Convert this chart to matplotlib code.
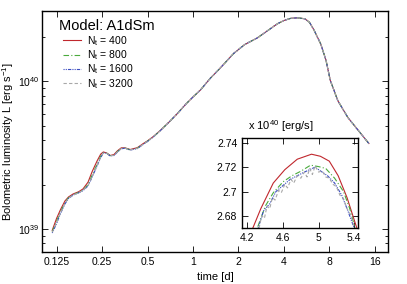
import matplotlib
matplotlib.use("Agg")
import matplotlib.pyplot as plt
from matplotlib.ticker import FixedLocator, FixedFormatter, LogLocator, NullFormatter

plt.rcParams['font.family'] = ['Liberation Sans', 'DejaVu Sans']
plt.rcParams['mathtext.fontset'] = 'custom'
plt.rcParams['mathtext.rm'] = 'Liberation Sans'
plt.rcParams['mathtext.it'] = 'Liberation Sans:italic'

# main light curve, time in days, luminosity in 1e39 erg/s
t_main = [0.117, 0.125, 0.133, 0.142, 0.150, 0.161, 0.175, 0.187, 0.202, 0.215,
          0.232, 0.245, 0.255, 0.268, 0.283, 0.300, 0.315, 0.335, 0.355, 0.384,
          0.428, 0.469, 0.50, 0.55, 0.609, 0.70, 0.79, 0.90, 1.00, 1.12,
          1.30, 1.50, 1.86, 2.20, 2.68, 3.12, 3.62, 4.00, 4.44, 4.94,
          5.50, 5.90, 6.30, 7.00, 7.60, 8.10, 9.10, 10.6, 12.4, 14.6]
L_400 = [0.98, 1.18, 1.36, 1.55, 1.65, 1.73, 1.79, 1.87, 2.08, 2.45,
         2.90, 3.22, 3.33, 3.28, 3.15, 3.20, 3.38, 3.55, 3.55, 3.46,
         3.56, 3.80, 3.96, 4.26, 4.67, 5.35, 6.08, 7.05, 7.85, 8.75,
         10.5, 12.2, 15.5, 17.8, 19.8, 22.1, 24.6, 25.9, 26.8, 27.0,
         26.6, 25.2, 22.5, 18.0, 13.9, 10.2, 7.4, 5.7, 4.67, 3.8]
L_800 = [0.96, 1.13, 1.31, 1.51, 1.63, 1.71, 1.77, 1.84, 2.00, 2.32,
         2.76, 3.12, 3.30, 3.27, 3.14, 3.17, 3.34, 3.52, 3.54, 3.44,
         3.53, 3.77, 3.94, 4.24, 4.66, 5.35, 6.08, 7.05, 7.85, 8.75,
         10.5, 12.2, 15.5, 17.8, 19.8, 22.1, 24.6, 25.9, 26.8, 27.0,
         26.6, 25.2, 22.5, 18.0, 13.9, 10.2, 7.4, 5.7, 4.67, 3.8]
L_1600 = [0.94, 1.09, 1.28, 1.48, 1.61, 1.70, 1.76, 1.82, 1.96, 2.25,
          2.68, 3.05, 3.27, 3.26, 3.13, 3.15, 3.31, 3.50, 3.53, 3.43,
          3.51, 3.75, 3.92, 4.23, 4.65, 5.35, 6.08, 7.05, 7.85, 8.75,
          10.5, 12.2, 15.5, 17.8, 19.8, 22.1, 24.6, 25.9, 26.8, 27.0,
          26.6, 25.2, 22.5, 18.0, 13.9, 10.2, 7.4, 5.7, 4.67, 3.8]
L_3200 = [0.95, 1.10, 1.29, 1.49, 1.62, 1.70, 1.76, 1.83, 1.97, 2.27,
          2.70, 3.07, 3.28, 3.26, 3.14, 3.16, 3.32, 3.51, 3.53, 3.44,
          3.52, 3.76, 3.93, 4.23, 4.65, 5.35, 6.08, 7.05, 7.85, 8.75,
          10.5, 12.2, 15.5, 17.8, 19.8, 22.1, 24.6, 25.9, 26.8, 27.0,
          26.6, 25.2, 22.5, 18.0, 13.9, 10.2, 7.4, 5.7, 4.67, 3.8]

# inset around the peak, luminosity in 1e40 erg/s
t_in_400 = [4.15, 4.26, 4.35, 4.49, 4.62, 4.76, 4.92, 5.02, 5.12, 5.22, 5.32, 5.43, 5.46]
L_in_400 = [2.655, 2.670, 2.686, 2.707, 2.718, 2.7266, 2.7307, 2.729, 2.725, 2.713, 2.695, 2.670, 2.662]
t_in_800 = [4.20, 4.31, 4.40, 4.49, 4.60, 4.70, 4.80, 4.91, 5.00, 5.08, 5.18, 5.28, 5.35, 5.41, 5.45]
L_in_800 = [2.655, 2.670, 2.688, 2.699, 2.708, 2.713, 2.7167, 2.7217, 2.7205, 2.719, 2.711, 2.700, 2.686, 2.670, 2.660]
t_in_1600 = [4.32, 4.38, 4.45, 4.52, 4.60, 4.68, 4.76, 4.84, 4.90, 4.96, 5.02, 5.10, 5.18, 5.26, 5.33, 5.40, 5.45]
L_in_1600 = [2.670, 2.684, 2.690, 2.700, 2.705, 2.710, 2.713, 2.716, 2.718, 2.720, 2.717, 2.713, 2.707, 2.697, 2.684, 2.670, 2.658]
t_in_3200 = [4.33, 4.36, 4.39, 4.42, 4.45, 4.48, 4.51, 4.55, 4.58, 4.62, 4.65, 4.69, 4.72, 4.76, 4.80, 4.84,
             4.87, 4.90, 4.93, 4.96, 5.00, 5.04, 5.08, 5.12, 5.16, 5.20, 5.24, 5.28, 5.32, 5.36, 5.40, 5.44]
L_in_3200 = [2.670, 2.680, 2.678, 2.688, 2.686, 2.695, 2.693, 2.701, 2.699, 2.706, 2.703, 2.710, 2.707, 2.713, 2.711, 2.716,
             2.712, 2.719, 2.714, 2.721, 2.716, 2.717, 2.712, 2.711, 2.706, 2.704, 2.697, 2.694, 2.686, 2.681, 2.671, 2.662]

labels = [r'N$_\mathrm{t}$ = 400', r'N$_\mathrm{t}$ = 800', r'N$_\mathrm{t}$ = 1600', r'N$_\mathrm{t}$ = 3200']
colors = ['#c0272d', '#4aaa3c', '#3a4cc0', '#a8a8a8']
styles = ['-', (0, (5, 2, 1, 2)), (0, (1, 1, 1, 1, 3, 1)), (0, (3, 2))]

xticks = [0.125, 0.25, 0.5, 1, 2, 4, 8, 16]
xticklabels = ['0.125', '0.25', '0.5', '1', '2', '4', '8', '16']

fig = plt.figure(figsize=(4.07, 2.84), dpi=100)
ax = fig.add_axes([0.103, 0.113, 0.850, 0.848])

main_L = [L_400, L_800, L_1600, L_3200]
for L, lab, c, ls in zip(main_L, labels, colors, styles):
    ax.plot(t_main, [v * 1e39 for v in L], color=c, ls=ls, lw=0.8, label=lab)

ax.set_xscale('log')
ax.set_yscale('log')
ax.set_xlim(0.1, 19.5)
ax.set_ylim(7e38, 3e40)
ax.xaxis.set_major_locator(FixedLocator(xticks))
ax.xaxis.set_major_formatter(FixedFormatter(xticklabels))
ax.xaxis.set_minor_locator(FixedLocator([]))
ax.yaxis.set_major_locator(LogLocator(base=10))
ax.yaxis.set_minor_locator(LogLocator(base=10, subs=range(2, 10)))
ax.yaxis.set_minor_formatter(NullFormatter())
ax.tick_params(which='both', direction='in', top=True, right=True, labelsize=7.5)
ax.tick_params(which='major', length=4, width=0.6)
ax.tick_params(which='minor', length=2, width=0.6)
ax.tick_params(axis='y', pad=2)
for s in ax.spines.values():
    s.set_linewidth(1.0)
ax.set_xlabel('time [d]', fontsize=8, labelpad=4)
fig.text(8.5 / 407, 0.5, r'Bolometric luminosity L [erg s$^{-1}$]', fontsize=8,
         rotation=90, ha='center', va='center')

ax.text(0.05, 0.94, 'Model: A1dSm', transform=ax.transAxes, fontsize=10.5, va='center')
ax.legend(loc='upper left', bbox_to_anchor=(0.062, 0.905), frameon=False, fontsize=7.5,
          handlelength=1.7, handletextpad=0.6, labelspacing=0.05, borderaxespad=0,
          borderpad=0)

ins = fig.add_axes([0.595, 0.197, 0.285, 0.317])
ins_t = [t_in_400, t_in_800, t_in_1600, t_in_3200]
ins_L = [L_in_400, L_in_800, L_in_1600, L_in_3200]
for t, L, c, ls in zip(ins_t, ins_L, colors, styles):
    ins.plot(t, L, color=c, ls=ls, lw=0.8)
ins.set_xlim(4.14, 5.445)
ins.set_ylim(2.670, 2.744)
ins.set_xticks([4.2, 4.6, 5.0, 5.4])
ins.set_xticklabels(['4.2', '4.6', '5', '5.4'])
ins.set_yticks([2.68, 2.70, 2.72, 2.74])
ins.set_yticklabels(['2.68', '2.7', '2.72', '2.74'])
ins.tick_params(direction='in', top=True, right=True, labelsize=7.5, length=4, width=0.6)
for s in ins.spines.values():
    s.set_linewidth(1.0)
ins.text(0.05, 1.05, r'x 10$^{40}$ [erg/s]', transform=ins.transAxes, fontsize=8, va='bottom')

fig.savefig('out.png', dpi=100)
